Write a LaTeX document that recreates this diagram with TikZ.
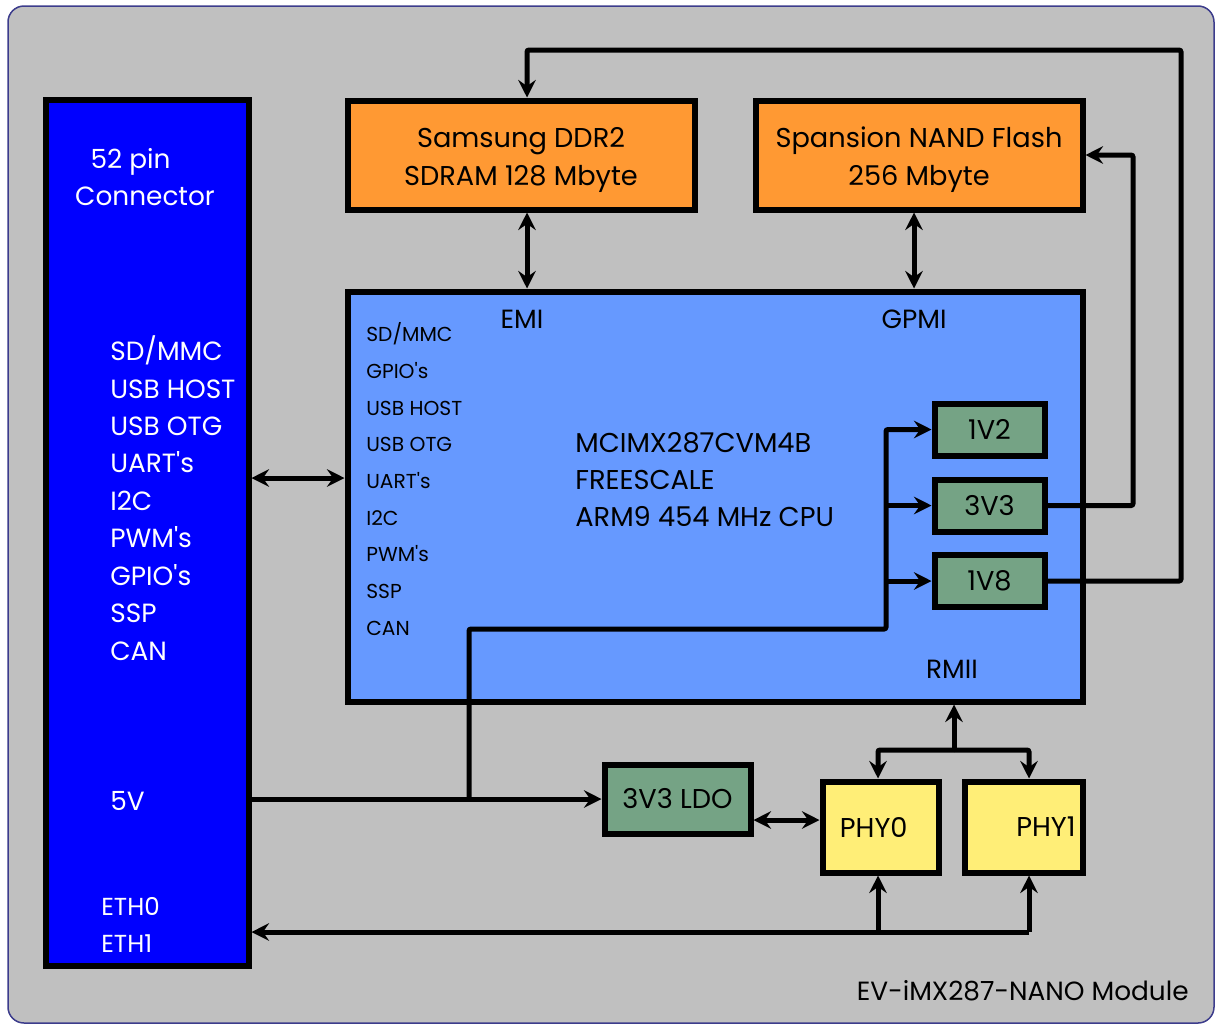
\documentclass[tikz,border=0pt]{standalone}
\usepackage{fontspec}
\setmainfont{Poppins}
\usepackage{xcolor}
\usetikzlibrary{arrows.meta, positioning, calc}
\definecolor{bggray}{HTML}{C0C0C0}
\definecolor{bgline}{HTML}{3C3C8C}
\definecolor{connblue}{HTML}{0000FF}
\definecolor{memorange}{HTML}{FF9933}
\definecolor{cpublue}{HTML}{6699FF}
\definecolor{reggreen}{HTML}{75A385}
\definecolor{phyyellow}{HTML}{FFEE77}
\newcommand{\pxu}{0.02cm}
\newcommand{\sq}{\textquotesingle}
\newcommand{\topstrut}{\rule{0pt}{17pt}}

\begin{document}
\begin{tikzpicture}[
  x=0.02cm, y=-0.02cm,
  box/.style={rectangle, draw=black, line width=6*\pxu, inner sep=0pt,
    font=\fontsize{15.5}{21.3}\selectfont, align=center},
  membox/.style={box, fill=memorange},
  regbox/.style={box, fill=reggreen},
  phybox/.style={box, fill=phyyellow},
  lbl/.style={inner sep=0pt, font=\fontsize{15}{21.3}\selectfont, align=left},
  small/.style={inner sep=0pt, font=\fontsize{11.5}{20.9}\selectfont, align=left},
  wire/.style={line width=5*\pxu, rounded corners=2*\pxu},
  arr/.style={wire, -{Stealth[length=10pt, width=10pt, inset=3.5pt]}},
  dbl/.style={wire, {Stealth[length=10pt, width=10pt, inset=3.5pt]}-{Stealth[length=10pt, width=10pt, inset=3.5pt]}},
]
  \useasboundingbox (0,0) rectangle (1216,1025);
  \draw[draw=bgline, fill=bggray, line width=1.5*\pxu, rounded corners=16*\pxu] (8,6) rectangle (1214,1023);

  \node[box, fill=connblue, minimum width=203*\pxu, minimum height=866*\pxu] (conn) at (147,533) {};
  \node[lbl, text=white, align=center] (conntitle) at (145,177) {\hspace*{-1.1em}52 pin\\Connector};
  \node[lbl, text=white, anchor=west] (connio) at (110,498) {SD/MMC\\USB HOST\\USB OTG\\UART\sq s\\I2C\\PWM\sq s\\GPIO\sq s\\SSP\\CAN};
  \node[lbl, text=white, anchor=west] (conn5v) at (110,801) {5V};
  \node[lbl, text=white, anchor=west, font=\fontsize{14}{21.3}\selectfont] (conneth) at (101,925) {ETH0\\ETH1};

  \node[membox, minimum width=347*\pxu, minimum height=109*\pxu] (ddr) at (521,155) {\topstrut Samsung DDR2\\SDRAM 128 Mbyte};
  \node[membox, minimum width=327*\pxu, minimum height=109*\pxu] (nand) at (919,155) {\topstrut Spansion NAND Flash\\256 Mbyte};

  \node[box, fill=cpublue, minimum width=735*\pxu, minimum height=410*\pxu] (cpu) at (715,496.5) {};
  \node[small, anchor=west] (cpuio) at (366,479) {SD/MMC\\GPIO\sq s\\USB HOST\\USB OTG\\UART\sq s\\I2C\\PWM\sq s\\SSP\\CAN};
  \node[lbl, anchor=west, font=\fontsize{15.5}{21.3}\selectfont] (cpuname) at (575,479.5) {MCIMX287CVM4B\\FREESCALE\\ARM9 454 MHz CPU};
  \node[lbl] (emi) at (522,319) {EMI};
  \node[lbl] (gpmi) at (914,319) {GPMI};
  \node[lbl] (rmiitxt) at (952,669) {RMII};

  \node[regbox, minimum width=110*\pxu, minimum height=52*\pxu] (v12) at (989.5,429.5) {1V2};
  \node[regbox, minimum width=110*\pxu, minimum height=52*\pxu] (v33) at (989.5,505.5) {3V3};
  \node[regbox, minimum width=110*\pxu, minimum height=52*\pxu] (v18) at (989.5,581) {1V8};

  \node[regbox, minimum width=146*\pxu, minimum height=69*\pxu] (ldo) at (677.5,799) {3V3 LDO};
  \node[phybox, minimum width=116*\pxu, minimum height=91*\pxu] (phy0) at (880.5,827) {\hspace*{-0.5em}PHY0};
  \node[phybox, minimum width=118*\pxu, minimum height=91*\pxu, text width=104*\pxu, align=right] (phy1) at (1023.5,827) {PHY1};

  \node[lbl, anchor=east] (module) at (1189,991) {EV-iMX287-NANO Module};

  \coordinate (emix) at (527,0);
  \coordinate (gpmix) at (914,0);
  \coordinate (ioy) at (0,478);
  \coordinate (ldoy) at (0,820);
  \coordinate (loopa) at (1181,50);
  \coordinate (loopb) at (1133,155);
  \coordinate (jn5) at (469,799);
  \coordinate (pwr) at (886,629);
  \coordinate (rmii) at (954,750);
  \coordinate (p0x) at (878,932);
  \coordinate (p1x) at (1029,932);

  \draw[dbl] (ddr.south -| emix) -- (cpu.north -| emix);
  \draw[dbl] (nand.south -| gpmix) -- (cpu.north -| gpmix);
  \draw[dbl] (conn.east |- ioy) -- (cpu.west |- ioy);
  \draw[arr] (v18.east) -| (loopa) -| (ddr.north -| emix);
  \draw[arr] (v33.east) -| (loopb) -- (nand.east);

  \draw[arr] (conn.east |- ldo.west) -- (ldo.west);
  \draw[arr] (jn5) |- (pwr) |- (v12.west);
  \draw[arr] (pwr |- v33.west) -- (v33.west);
  \draw[arr] (pwr |- v18.west) -- (v18.west);
  \draw[dbl] (ldo.east |- ldoy) -- (phy0.west |- ldoy);

  \draw[arr] (rmii) -- (cpu.south -| rmii);
  \draw[arr] (rmii) -| (phy0.north -| p0x);
  \draw[arr] (rmii) -| (phy1.north -| p1x);
  \draw[arr] (p1x) -- (conn.east |- p1x);
  \draw[arr] (p0x) -- (phy0.south -| p0x);
  \draw[arr] (p1x) -- (phy1.south -| p1x);
\end{tikzpicture}
\end{document}
